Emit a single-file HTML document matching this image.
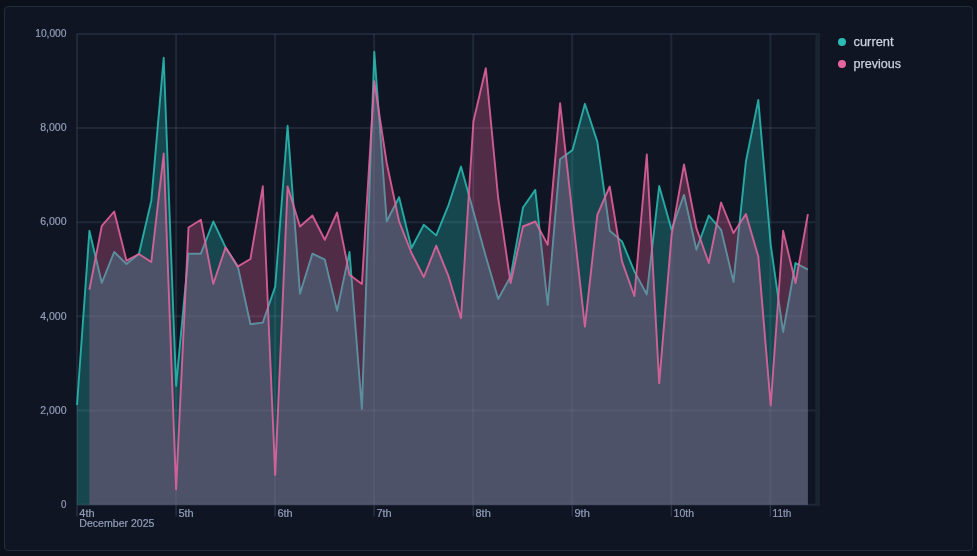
<!DOCTYPE html>
<html lang="en"><head><meta charset="utf-8"><title>current vs previous</title>
<style>
html,body{margin:0;padding:0;background:#0b101a;}
body{width:977px;height:556px;overflow:hidden;position:relative;font-family:"Liberation Sans",sans-serif;}
.panel{position:absolute;left:4px;top:6px;width:967px;height:543px;border:1px solid #232d3f;border-radius:4px;background:#0f1522;}
svg{position:absolute;left:0;top:0;}
text{font-family:"Liberation Sans",sans-serif;}
</style></head><body>
<div class="panel"></div>
<svg width="977" height="556" viewBox="0 0 977 556">
<g stroke="#50627c" stroke-opacity="0.25" stroke-width="2" fill="none">
<line x1="77" y1="33.90" x2="820" y2="33.90"/>
<line x1="77" y1="128.05" x2="820" y2="128.05"/>
<line x1="77" y1="222.20" x2="820" y2="222.20"/>
<line x1="77" y1="316.35" x2="820" y2="316.35"/>
<line x1="77" y1="410.50" x2="820" y2="410.50"/>
<line x1="77" y1="504.65" x2="820" y2="504.65"/>
<line x1="77.0" y1="34" x2="77.0" y2="504.7"/>
<line x1="176.1" y1="34" x2="176.1" y2="504.7"/>
<line x1="275.1" y1="34" x2="275.1" y2="504.7"/>
<line x1="374.1" y1="34" x2="374.1" y2="504.7"/>
<line x1="473.2" y1="34" x2="473.2" y2="504.7"/>
<line x1="572.2" y1="34" x2="572.2" y2="504.7"/>
<line x1="671.3" y1="34" x2="671.3" y2="504.7"/>
<line x1="770.4" y1="34" x2="770.4" y2="504.7"/>
</g>
<rect x="815.3" y="33.5" width="4.6" height="471.2" fill="#1b2332"/>
<g stroke="#2c374c" stroke-width="1.2" fill="none">
<line x1="77.0" y1="504.7" x2="77.0" y2="516.5"/>
<line x1="176.1" y1="504.7" x2="176.1" y2="516.5"/>
<line x1="275.1" y1="504.7" x2="275.1" y2="516.5"/>
<line x1="374.1" y1="504.7" x2="374.1" y2="516.5"/>
<line x1="473.2" y1="504.7" x2="473.2" y2="516.5"/>
<line x1="572.2" y1="504.7" x2="572.2" y2="516.5"/>
<line x1="671.3" y1="504.7" x2="671.3" y2="516.5"/>
<line x1="770.4" y1="504.7" x2="770.4" y2="516.5"/>
</g>
<defs><filter id="bl" x="-5%" y="-5%" width="110%" height="110%"><feGaussianBlur stdDeviation="0.5"/></filter><clipPath id="cc"><path d="M77.0,405.0 L89.4,230.8 L101.8,283.0 L114.2,252.0 L126.5,264.0 L138.9,254.0 L151.3,200.8 L163.7,57.7 L176.1,385.8 L188.5,253.7 L200.9,253.7 L213.3,221.5 L225.6,247.4 L238.0,267.4 L250.4,324.2 L262.8,322.6 L275.2,286.5 L287.6,125.7 L300.0,293.7 L312.4,253.7 L324.8,259.7 L337.1,310.9 L349.5,252.0 L361.9,409.0 L374.3,51.7 L386.7,221.5 L399.1,197.2 L411.5,248.0 L423.8,224.8 L436.2,235.4 L448.6,204.8 L461.0,166.6 L473.4,211.5 L485.8,256.4 L498.2,299.0 L510.6,276.4 L523.0,207.5 L535.3,189.9 L547.7,305.0 L560.1,159.3 L572.5,150.0 L584.9,103.8 L597.3,141.6 L609.7,230.8 L622.0,241.4 L634.4,271.4 L646.8,294.5 L659.2,186.0 L671.6,229.8 L684.0,194.9 L696.4,249.7 L708.8,215.5 L721.1,229.8 L733.5,282.0 L745.9,161.5 L758.3,99.9 L770.7,244.7 L783.1,332.2 L795.5,263.0 L807.9,269.7 L807.9,504.7 L77.0,504.7 Z"/></clipPath></defs>
<path d="M77.0,405.0 L89.4,230.8 L101.8,283.0 L114.2,252.0 L126.5,264.0 L138.9,254.0 L151.3,200.8 L163.7,57.7 L176.1,385.8 L188.5,253.7 L200.9,253.7 L213.3,221.5 L225.6,247.4 L238.0,267.4 L250.4,324.2 L262.8,322.6 L275.2,286.5 L287.6,125.7 L300.0,293.7 L312.4,253.7 L324.8,259.7 L337.1,310.9 L349.5,252.0 L361.9,409.0 L374.3,51.7 L386.7,221.5 L399.1,197.2 L411.5,248.0 L423.8,224.8 L436.2,235.4 L448.6,204.8 L461.0,166.6 L473.4,211.5 L485.8,256.4 L498.2,299.0 L510.6,276.4 L523.0,207.5 L535.3,189.9 L547.7,305.0 L560.1,159.3 L572.5,150.0 L584.9,103.8 L597.3,141.6 L609.7,230.8 L622.0,241.4 L634.4,271.4 L646.8,294.5 L659.2,186.0 L671.6,229.8 L684.0,194.9 L696.4,249.7 L708.8,215.5 L721.1,229.8 L733.5,282.0 L745.9,161.5 L758.3,99.9 L770.7,244.7 L783.1,332.2 L795.5,263.0 L807.9,269.7 L807.9,504.7 L77.0,504.7 Z" fill="#2bbdb5" fill-opacity="0.3"/>
<path d="M77.0,405.0 L89.4,230.8 L101.8,283.0 L114.2,252.0 L126.5,264.0 L138.9,254.0 L151.3,200.8 L163.7,57.7 L176.1,385.8 L188.5,253.7 L200.9,253.7 L213.3,221.5 L225.6,247.4 L238.0,267.4 L250.4,324.2 L262.8,322.6 L275.2,286.5 L287.6,125.7 L300.0,293.7 L312.4,253.7 L324.8,259.7 L337.1,310.9 L349.5,252.0 L361.9,409.0 L374.3,51.7 L386.7,221.5 L399.1,197.2 L411.5,248.0 L423.8,224.8 L436.2,235.4 L448.6,204.8 L461.0,166.6 L473.4,211.5 L485.8,256.4 L498.2,299.0 L510.6,276.4 L523.0,207.5 L535.3,189.9 L547.7,305.0 L560.1,159.3 L572.5,150.0 L584.9,103.8 L597.3,141.6 L609.7,230.8 L622.0,241.4 L634.4,271.4 L646.8,294.5 L659.2,186.0 L671.6,229.8 L684.0,194.9 L696.4,249.7 L708.8,215.5 L721.1,229.8 L733.5,282.0 L745.9,161.5 L758.3,99.9 L770.7,244.7 L783.1,332.2 L795.5,263.0 L807.9,269.7" fill="none" stroke="#2bbdb5" stroke-width="1.9" stroke-opacity="0.86" stroke-linejoin="round" filter="url(#bl)"/>
<path d="M89.4,289.7 L101.8,225.8 L114.2,211.5 L126.5,260.7 L138.9,254.0 L151.3,262.0 L163.7,153.5 L176.1,489.2 L188.5,227.5 L200.9,219.8 L213.3,283.7 L225.6,247.4 L238.0,266.4 L250.4,259.0 L262.8,186.3 L275.2,474.9 L287.6,186.4 L300.0,226.5 L312.4,215.5 L324.8,239.8 L337.1,212.5 L349.5,274.7 L361.9,284.0 L374.3,81.3 L386.7,163.0 L399.1,221.5 L411.5,253.0 L423.8,277.0 L436.2,245.7 L448.6,276.4 L461.0,318.2 L473.4,121.5 L485.8,68.2 L498.2,198.0 L510.6,283.0 L523.0,226.5 L535.3,221.5 L547.7,244.7 L560.1,103.2 L572.5,215.0 L584.9,326.6 L597.3,214.8 L609.7,186.5 L622.0,261.4 L634.4,296.0 L646.8,154.5 L659.2,383.1 L671.6,234.8 L684.0,164.5 L696.4,228.1 L708.8,263.0 L721.1,202.5 L733.5,233.1 L745.9,214.1 L758.3,256.4 L770.7,405.4 L783.1,230.8 L795.5,283.0 L807.9,214.1 L807.9,504.7 L89.4,504.7 Z" fill="#e8649f" fill-opacity="0.3"/>
<path d="M89.4,289.7 L101.8,225.8 L114.2,211.5 L126.5,260.7 L138.9,254.0 L151.3,262.0 L163.7,153.5 L176.1,489.2 L188.5,227.5 L200.9,219.8 L213.3,283.7 L225.6,247.4 L238.0,266.4 L250.4,259.0 L262.8,186.3 L275.2,474.9 L287.6,186.4 L300.0,226.5 L312.4,215.5 L324.8,239.8 L337.1,212.5 L349.5,274.7 L361.9,284.0 L374.3,81.3 L386.7,163.0 L399.1,221.5 L411.5,253.0 L423.8,277.0 L436.2,245.7 L448.6,276.4 L461.0,318.2 L473.4,121.5 L485.8,68.2 L498.2,198.0 L510.6,283.0 L523.0,226.5 L535.3,221.5 L547.7,244.7 L560.1,103.2 L572.5,215.0 L584.9,326.6 L597.3,214.8 L609.7,186.5 L622.0,261.4 L634.4,296.0 L646.8,154.5 L659.2,383.1 L671.6,234.8 L684.0,164.5 L696.4,228.1 L708.8,263.0 L721.1,202.5 L733.5,233.1 L745.9,214.1 L758.3,256.4 L770.7,405.4 L783.1,230.8 L795.5,283.0 L807.9,214.1 L807.9,504.7 L89.4,504.7 Z" fill="#2b6273" fill-opacity="0.163" clip-path="url(#cc)"/>
<path d="M89.4,289.7 L101.8,225.8 L114.2,211.5 L126.5,260.7 L138.9,254.0 L151.3,262.0 L163.7,153.5 L176.1,489.2 L188.5,227.5 L200.9,219.8 L213.3,283.7 L225.6,247.4 L238.0,266.4 L250.4,259.0 L262.8,186.3 L275.2,474.9 L287.6,186.4 L300.0,226.5 L312.4,215.5 L324.8,239.8 L337.1,212.5 L349.5,274.7 L361.9,284.0 L374.3,81.3 L386.7,163.0 L399.1,221.5 L411.5,253.0 L423.8,277.0 L436.2,245.7 L448.6,276.4 L461.0,318.2 L473.4,121.5 L485.8,68.2 L498.2,198.0 L510.6,283.0 L523.0,226.5 L535.3,221.5 L547.7,244.7 L560.1,103.2 L572.5,215.0 L584.9,326.6 L597.3,214.8 L609.7,186.5 L622.0,261.4 L634.4,296.0 L646.8,154.5 L659.2,383.1 L671.6,234.8 L684.0,164.5 L696.4,228.1 L708.8,263.0 L721.1,202.5 L733.5,233.1 L745.9,214.1 L758.3,256.4 L770.7,405.4 L783.1,230.8 L795.5,283.0 L807.9,214.1" fill="none" stroke="#e8649f" stroke-width="1.9" stroke-opacity="0.86" stroke-linejoin="round" filter="url(#bl)"/>
<g fill="#919db8" stroke="#919db8" stroke-width="0.2" font-size="10" text-anchor="end">
<text x="66.5" y="37.1" textLength="31.3" lengthAdjust="spacingAndGlyphs">10,000</text>
<text x="66.5" y="131.2" textLength="26.3" lengthAdjust="spacingAndGlyphs">8,000</text>
<text x="66.5" y="225.4" textLength="26.3" lengthAdjust="spacingAndGlyphs">6,000</text>
<text x="66.5" y="319.6" textLength="26.3" lengthAdjust="spacingAndGlyphs">4,000</text>
<text x="66.5" y="413.7" textLength="26.3" lengthAdjust="spacingAndGlyphs">2,000</text>
<text x="66.5" y="507.8" textLength="5.4" lengthAdjust="spacingAndGlyphs">0</text>
</g>
<g fill="#919db8" stroke="#919db8" stroke-width="0.2" font-size="10">
<text x="79.3" y="516.8" textLength="15.3" lengthAdjust="spacingAndGlyphs">4th</text>
<text x="178.4" y="516.8" textLength="15.3" lengthAdjust="spacingAndGlyphs">5th</text>
<text x="277.4" y="516.8" textLength="15.3" lengthAdjust="spacingAndGlyphs">6th</text>
<text x="376.4" y="516.8" textLength="15.3" lengthAdjust="spacingAndGlyphs">7th</text>
<text x="475.5" y="516.8" textLength="15.3" lengthAdjust="spacingAndGlyphs">8th</text>
<text x="574.5" y="516.8" textLength="15.3" lengthAdjust="spacingAndGlyphs">9th</text>
<text x="673.6" y="516.8" textLength="20.4" lengthAdjust="spacingAndGlyphs">10th</text>
<text x="772.6" y="516.8" textLength="18.6" lengthAdjust="spacingAndGlyphs">11th</text>
<text x="79.3" y="526.8" textLength="75.2" lengthAdjust="spacingAndGlyphs">December 2025</text>
</g>
<circle cx="842" cy="42" r="4" fill="#2bbdb5"/>
<circle cx="842" cy="64" r="4" fill="#e8649f"/>
<g fill="#cbd1df" stroke="#cbd1df" stroke-width="0.25" font-size="12.5"><text x="853.5" y="46" textLength="40.1" lengthAdjust="spacingAndGlyphs">current</text><text x="853.5" y="68" textLength="47.5" lengthAdjust="spacingAndGlyphs">previous</text></g>
</svg></body></html>
